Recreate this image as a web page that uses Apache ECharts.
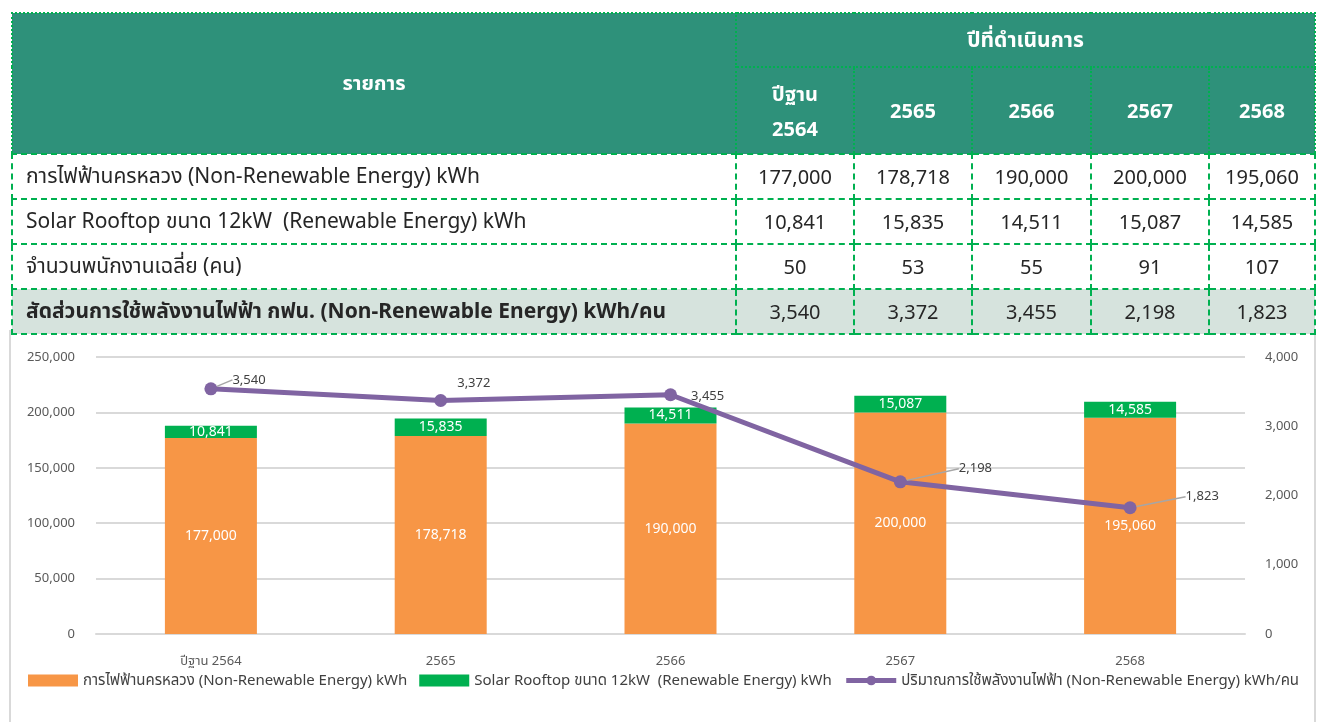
<!DOCTYPE html>
<html>
<head>
<meta charset="utf-8">
<script src="https://cdn.jsdelivr.net/npm/echarts@6/dist/echarts.min.js"></script>
<style>
  html, body { margin: 0; padding: 0; background: #fff; width: 1318px; height: 722px; overflow: hidden;
    font-family: Tahoma, "Noto Sans", "Noto Sans Thai", sans-serif; }
  #chart { position: absolute; left: 0; top: 0; width: 1318px; height: 722px; }
  #frame { position: absolute; left: 9px; top: 330px; width: 1307px; height: 400px;
    border: 2px solid #D9D9D9; box-sizing: border-box; }
  #tbl { position: absolute; left: 11px; top: 12px; border-collapse: collapse; table-layout: fixed; }
  #tbl td, #tbl th { padding: 0; box-sizing: border-box; font-size: 20px; color: #262626; font-weight: normal; }
  #tbl th { background: #2E917A; color: #fff; text-align: center; border: 2px dotted #00B050; font-weight: bold; }
  #tbl tr.h1 th { height: 54px; }
  #tbl tr.h1 th.wide { font-size: 21px; }
  #tbl tr.h2 th { height: 87px; line-height: 35px; }
  #tbl td { border: 2px dashed #00B050; height: 45px; text-align: center; background: #fff; }
  #tbl td.name { text-align: left; padding-left: 13px; font-size: 21px; white-space: pre; }
  #tbl tr.ratio td { background: #D6E3DD; }
  #tbl tr.ratio td.name { font-weight: bold; }
</style>
</head>
<body>
<div id="frame"></div>
<div id="chart"></div>
<table id="tbl"></table>
<script>
// Years of operation (Buddhist era)
const years = ['2564', '2565', '2566', '2567', '2568'];
const xLabels = ['ปีฐาน 2564', '2565', '2566', '2567', '2568'];

// Electricity bought from the Metropolitan Electricity Authority (kWh)
const gridPower = [177000, 178718, 190000, 200000, 195060];
// Solar rooftop 12 kW production (kWh)
const solarPower = [10841, 15835, 14511, 15087, 14585];
// Average number of staff
const staff = [50, 53, 55, 91, 107];
// Non-renewable electricity per person (kWh/person)
const perPerson = [3540, 3372, 3455, 2198, 1823];

const leftTicks = [0, 50000, 100000, 150000, 200000, 250000];
const rightTicks = [0, 1000, 2000, 3000, 4000];

const rowNames = {
  grid: 'การไฟฟ้านครหลวง (Non-Renewable Energy) kWh',
  solar: 'Solar Rooftop ขนาด 12kW  (Renewable Energy) kWh',
  staff: 'จำนวนพนักงานเฉลี่ย (คน)',
  ratio: 'สัดส่วนการใช้พลังงานไฟฟ้า กฟน. (Non-Renewable Energy) kWh/คน'
};
const legendNames = {
  grid: 'การไฟฟ้านครหลวง (Non-Renewable Energy) kWh',
  solar: 'Solar Rooftop ขนาด 12kW  (Renewable Energy) kWh',
  ratio: 'ปริมาณการใช้พลังงานไฟฟ้า (Non-Renewable Energy) kWh/คน'
};

const fmt = v => v.toLocaleString('en-US');

// ---- summary table ----
const colWidths = [724, 118, 118, 119, 118, 106];
(function buildTable() {
  const t = document.getElementById('tbl');
  let html = '<colgroup>' + colWidths.map(w => `<col style="width:${w}px">`).join('') + '</colgroup>';
  html += '<tr class="h1"><th rowspan="2">รายการ</th><th class="wide" colspan="5">ปีที่ดำเนินการ</th></tr>';
  html += '<tr class="h2">' + years.map((y, i) => i === 0 ? `<th>ปีฐาน<br>${y}</th>` : `<th>${y}</th>`).join('') + '</tr>';
  const row = (cls, name, vals) =>
    `<tr class="${cls}"><td class="name">${name}</td>` + vals.map(v => `<td>${fmt(v)}</td>`).join('') + '</tr>';
  html += row('', rowNames.grid, gridPower);
  html += row('', rowNames.solar, solarPower);
  html += row('', rowNames.staff, staff);
  html += row('ratio', rowNames.ratio, perPerson);
  t.innerHTML = html;
})();

// ---- combined bar / line chart ----
const labelShift = [[10, -9], [5, -17], [9, 2], [47, -13], [44, -11]];
const showGuide = [true, false, false, true, true];

const chart = echarts.init(document.getElementById('chart'), null, { renderer: 'canvas' });
const font = 'Tahoma, "Noto Sans", "Noto Sans Thai", sans-serif';

chart.setOption({
  animation: false,
  textStyle: { fontFamily: font },
  grid: { left: 96, right: 73, top: 357, bottom: 88, containLabel: false },
  legend: {
    left: 23, top: 668,
    itemGap: 12,
    itemWidth: 50, itemHeight: 12,
    textStyle: { color: '#404040', fontSize: 15, fontFamily: font },
    data: [
      { name: legendNames.grid, icon: 'rect' },
      { name: legendNames.solar, icon: 'rect' },
      { name: legendNames.ratio, lineStyle: { width: 5 } }
    ]
  },
  xAxis: {
    type: 'category',
    data: xLabels,
    axisLine: { show: true, lineStyle: { color: '#D9D9D9', width: 2 } },
    axisTick: { show: false },
    axisLabel: { color: '#595959', fontSize: 13, margin: 21 }
  },
  yAxis: [
    {
      type: 'value', min: 0, max: 250000, interval: 50000,
      axisLine: { show: false }, axisTick: { show: false },
      splitLine: { lineStyle: { color: '#D9D9D9', width: 2 } },
      axisLabel: { color: '#595959', fontSize: 13, margin: 21,
        formatter: v => leftTicks.includes(v) ? fmt(v) : '' }
    },
    {
      type: 'value', min: 0, max: 4000, interval: 1000,
      axisLine: { show: false }, axisTick: { show: false },
      splitLine: { show: false },
      axisLabel: { color: '#595959', fontSize: 13, margin: 20, align: 'left',
        formatter: v => rightTicks.includes(v) ? fmt(v) : '' }
    }
  ],
  series: [
    {
      name: legendNames.grid, type: 'bar', stack: 'energy', barWidth: 92,
      data: gridPower,
      itemStyle: { color: '#F79646' },
      label: { show: true, position: 'inside', color: '#fff', fontSize: 14,
        formatter: p => fmt(p.value) }
    },
    {
      name: legendNames.solar, type: 'bar', stack: 'energy', barWidth: 92,
      data: solarPower,
      itemStyle: { color: '#00B050' },
      label: { show: true, position: 'inside', color: '#fff', fontSize: 14,
        formatter: p => fmt(p.value) }
    },
    {
      name: legendNames.ratio, type: 'line', yAxisIndex: 1,
      data: perPerson.map((v, i) => ({ value: v, labelLine: { show: showGuide[i] } })),
      symbol: 'circle', symbolSize: 13,
      lineStyle: { color: '#8064A2', width: 5 },
      itemStyle: { color: '#8064A2' },
      z: 5,
      label: { show: true, position: 'right', distance: 5, color: '#404040', fontSize: 13,
        formatter: p => fmt(p.value) },
      labelLine: { show: true, lineStyle: { color: '#A6A6A6', width: 1.5 } },
      labelLayout: p => ({ dx: labelShift[p.dataIndex][0], dy: labelShift[p.dataIndex][1] })
    }
  ]
});
</script>
</body>
</html>
